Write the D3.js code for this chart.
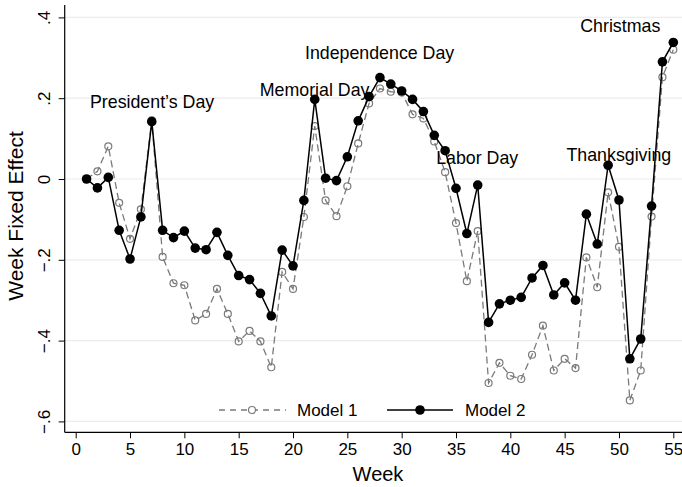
<!DOCTYPE html>
<html>
<head>
<meta charset="utf-8">
<script src="https://cdn.jsdelivr.net/npm/d3@7"></script>
<style>
  html, body { margin: 0; padding: 0; background: #fff; }
  svg text { font-family: "Liberation Sans", Arial, Helvetica, sans-serif; fill: #000; }
</style>
</head>
<body>
<svg id="chart" width="682" height="487"></svg>
<script>
// ---- data ----
const weeks = d3.range(1, 56);
const model1 = [0.000, 0.019, 0.081, -0.059, -0.148, -0.075, 0.145, -0.193, -0.258, -0.263,
  -0.350, -0.334, -0.272, -0.334, -0.402, -0.376, -0.402, -0.466, -0.230, -0.272,
  -0.094, 0.131, -0.053, -0.092, -0.018, 0.088, 0.187, 0.224, 0.216, 0.214,
  0.160, 0.150, 0.093, 0.017, -0.109, -0.253, -0.129, -0.505, -0.455, -0.487,
  -0.495, -0.435, -0.363, -0.474, -0.445, -0.468, -0.194, -0.268, -0.033, -0.168,
  -0.548, -0.474, -0.093, 0.252, 0.320];
const model2 = [0.000, -0.022, 0.004, -0.127, -0.198, -0.094, 0.142, -0.127, -0.145, -0.129,
  -0.171, -0.175, -0.132, -0.189, -0.239, -0.249, -0.283, -0.339, -0.176, -0.215,
  -0.053, 0.197, 0.002, -0.004, 0.055, 0.144, 0.204, 0.251, 0.235, 0.218,
  0.197, 0.167, 0.108, 0.070, -0.023, -0.135, -0.015, -0.355, -0.309, -0.300,
  -0.293, -0.245, -0.214, -0.287, -0.257, -0.300, -0.087, -0.161, 0.034, -0.052,
  -0.445, -0.396, -0.067, 0.290, 0.338];
const xTicks = [0, 5, 10, 15, 20, 25, 30, 35, 40, 45, 50, 55];
const yTicks = [-0.6, -0.4, -0.2, 0, 0.2, 0.4];
const yTickLabels = ["\u2212.6", "\u2212.4", "\u2212.2", "0", ".2", ".4"];
const holidayNames = ["President\u2019s Day", "Memorial Day", "Independence Day", "Labor Day", "Thanksgiving", "Christmas"];
const holidayWeeks = [7.03, 21.99, 27.97, 36.95, 49.99, 50.12];
const holidayValues = [0.176, 0.206, 0.297, 0.037, 0.045, 0.363];
const seriesNames = ["Model 1", "Model 2"];

// ---- scales ----
const x = d3.scaleLinear().domain([0, 55]).range([75.7, 673.3]);
const y = d3.scaleLinear().domain([-0.6, 0.4]).range([421.4, 17.4]);
const plotLeft = 64.7, plotRight = 682, plotTop = 5, plotBottom = 432.3;

const svg = d3.select("#chart");

// gridlines
svg.append("g").selectAll("line").data(yTicks).join("line")
  .attr("x1", plotLeft).attr("x2", plotRight)
  .attr("y1", d => y(d)).attr("y2", d => y(d))
  .attr("stroke", "#ececec").attr("stroke-width", 1.2);

// axes
const xAxis = svg.append("g").attr("transform", `translate(0,${plotBottom})`)
  .call(d3.axisBottom(x).tickValues(xTicks).tickSize(6).tickPadding(4).tickFormat(d3.format("d")));
xAxis.select(".domain").remove();
xAxis.selectAll(".tick line").attr("stroke", "#000").attr("stroke-width", 1);
xAxis.selectAll(".tick text").attr("font-size", 17).attr("dy", "0.75em")
  .style("font-family", "'Liberation Sans', Arial, sans-serif");

const yAxis = svg.append("g").attr("transform", `translate(${plotLeft},0)`)
  .call(d3.axisLeft(y).tickValues(yTicks).tickSize(6).tickFormat((d, i) => yTickLabels[i]));
yAxis.select(".domain").remove();
yAxis.selectAll(".tick line").attr("stroke", "#000").attr("stroke-width", 1);
yAxis.selectAll(".tick text")
  .attr("font-size", 17)
  .attr("x", null).attr("dy", null)
  .attr("text-anchor", "middle")
  .attr("transform", "translate(-15,0) rotate(-90)")
  .style("font-family", "'Liberation Sans', Arial, sans-serif");

svg.append("line").attr("x1", plotLeft).attr("x2", plotRight)
  .attr("y1", plotBottom).attr("y2", plotBottom).attr("stroke", "#000").attr("stroke-width", 1.2);
svg.append("line").attr("x1", plotLeft).attr("x2", plotLeft)
  .attr("y1", plotTop).attr("y2", plotBottom).attr("stroke", "#000").attr("stroke-width", 1.2);

// axis titles
svg.append("text").attr("x", 378).attr("y", 481).attr("text-anchor", "middle")
  .attr("font-size", 20).text("Week");
svg.append("text").attr("transform", "translate(23,216) rotate(-90)").attr("text-anchor", "middle")
  .attr("font-size", 21).text("Week Fixed Effect");

// series
const line = d3.line().x((d, i) => x(weeks[i])).y(d => y(d));
const gray = "#7a7a7a";

svg.append("path").datum(model1).attr("d", line)
  .attr("fill", "none").attr("stroke", gray).attr("stroke-width", 1.3).attr("stroke-dasharray", "7,4");
svg.append("g").selectAll("circle").data(model1).join("circle")
  .attr("cx", (d, i) => x(weeks[i])).attr("cy", d => y(d)).attr("r", 3.5)
  .attr("fill", "none").attr("stroke", gray).attr("stroke-width", 1.2);

svg.append("path").datum(model2).attr("d", line)
  .attr("fill", "none").attr("stroke", "#000").attr("stroke-width", 1.5);
svg.append("g").selectAll("circle").data(model2).join("circle")
  .attr("cx", (d, i) => x(weeks[i])).attr("cy", d => y(d)).attr("r", 4.8)
  .attr("fill", "#000");

// holiday labels
svg.append("g").selectAll("text").data(holidayNames).join("text")
  .attr("x", (d, i) => x(holidayWeeks[i])).attr("y", (d, i) => y(holidayValues[i]))
  .attr("text-anchor", "middle").attr("font-size", 17.8).text(d => d);

// legend
const leg = svg.append("g");
leg.append("line").attr("x1", 219).attr("x2", 286).attr("y1", 410).attr("y2", 410)
  .attr("stroke", gray).attr("stroke-width", 1.3).attr("stroke-dasharray", "6,5");
leg.append("circle").attr("cx", 252).attr("cy", 410).attr("r", 3.5)
  .attr("fill", "#fff").attr("stroke", gray).attr("stroke-width", 1.2);
leg.append("text").attr("x", 297).attr("y", 416).attr("font-size", 17).text(seriesNames[0]);
leg.append("line").attr("x1", 387).attr("x2", 453).attr("y1", 410).attr("y2", 410)
  .attr("stroke", "#000").attr("stroke-width", 1.5);
leg.append("circle").attr("cx", 420).attr("cy", 410).attr("r", 4.8).attr("fill", "#000");
leg.append("text").attr("x", 465).attr("y", 416).attr("font-size", 17).text(seriesNames[1]);
</script>
</body>
</html>
